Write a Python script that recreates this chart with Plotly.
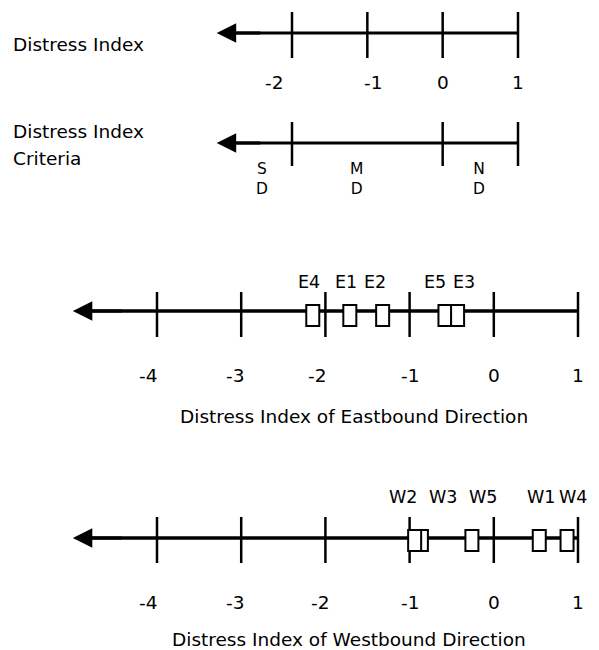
import plotly.graph_objects as go

# values
TOP_TICKS = [-2, -1, 0, 1]
CRITERIA_TICKS = [-2, 0, 1]
CRITERIA_CODES = ["SD", "MD", "ND"]
CRITERIA_POS = [-2.4, -1.14, 0.48]
SECTION_TICKS = [-4, -3, -2, -1, 0, 1]
EAST_SECTIONS = ["E4", "E1", "E2", "E5", "E3"]
EAST_INDEX = [-2.15, -1.71, -1.32, -0.58, -0.43]
WEST_SECTIONS = ["W3", "W2", "W5", "W1", "W4"]
WEST_INDEX = [-0.86, -0.94, -0.26, 0.54, 0.87]

PAGE_W, PAGE_H = 599, 650
OFF = 8  # browser body margin
W, H = PAGE_W - OFF, PAGE_H - OFF
FAMILY = "DejaVu Sans"
FONT = dict(family=FAMILY, size=18.5, color="black")
SMALL = dict(family=FAMILY, size=17.5, color="black")
STACK = dict(family=FAMILY, size=15.5, color="black")
# per-label horizontal nudges (pixels) so stacked labels don't collide
LABEL_SHIFT = {"E4": -4, "E1": -4, "E2": -8, "E5": -10, "E3": 6,
               "W2": -12, "W3": 22, "W5": 11, "W1": 2, "W4": 6}
TICK_SHIFT_TOP = {-2: -18, -1: 6}


def px(xp):
    return (xp - OFF) / W


def number_line(fig, xa, ticks, tip, y, t0, t1, lw=3):
    fig.add_trace(go.Scatter(x=[tip + 0.2, max(ticks)], y=[y, y], xaxis=xa, yaxis="y",
                             mode="lines", line=dict(color="black", width=lw),
                             showlegend=False, hoverinfo="skip"))
    xs, ys = [], []
    for t in ticks:
        xs += [t, t, None]
        ys += [t0, t1, None]
    fig.add_trace(go.Scatter(x=xs, y=ys, xaxis=xa, yaxis="y", mode="lines",
                             line=dict(color="black", width=2.5),
                             showlegend=False, hoverinfo="skip"))
    fig.add_annotation(x=tip, y=y, ax=tip + 0.6, ay=y, xref=xa, yref="y",
                       axref=xa, ayref="y", text="", showarrow=True,
                       arrowhead=2, arrowsize=1.3, arrowwidth=3, arrowcolor="black")


def tick_labels(fig, xa, ticks, y, shifts=None):
    shifts = shifts or {}
    for t in ticks:
        fig.add_annotation(x=t, y=y, xref=xa, yref="y", text=str(t), showarrow=False,
                           xshift=shifts.get(t, 0), font=FONT)


def sections(fig, xa, names, vals, y0, y1, ylab):
    for n, v in zip(names, vals):
        fig.add_shape(type="rect", xref=xa, yref="y", xsizemode="pixel", xanchor=v,
                      x0=-6.5, x1=6.5, y0=y0, y1=y1, fillcolor="white",
                      line=dict(color="black", width=2))
        fig.add_annotation(x=v, y=ylab, xref=xa, yref="y", text=n, showarrow=False,
                           xshift=LABEL_SHIFT.get(n, 0), font=SMALL)


fig = go.Figure()

# top: distress index scale and criteria
number_line(fig, "x", TOP_TICKS, -3, 33, 12, 58)
tick_labels(fig, "x", TOP_TICKS, 82, TICK_SHIFT_TOP)
number_line(fig, "x", CRITERIA_TICKS, -3, 143, 122, 166)
for code, p in zip(CRITERIA_CODES, CRITERIA_POS):
    fig.add_annotation(x=p, y=179, xref="x", yref="y", text="<br>".join(code),
                       showarrow=False, font=STACK)

for txt, yy in [("Distress Index", 44), ("Distress Index", 131), ("Criteria", 158)]:
    fig.add_annotation(x=px(11), y=yy, xref="paper", yref="y", xanchor="left",
                       text=txt, showarrow=False, font=FONT)

# eastbound
number_line(fig, "x2", SECTION_TICKS, -5, 311, 292, 337, lw=3.5)
sections(fig, "x2", EAST_SECTIONS, EAST_INDEX, 305, 326, 282)
tick_labels(fig, "x2", SECTION_TICKS, 375, {-4: -9, -3: -6, -2: -8})
fig.add_annotation(x=px(354), y=416, xref="paper", yref="y",
                   text="Distress Index of Eastbound Direction", showarrow=False, font=FONT)

# westbound
number_line(fig, "x2", SECTION_TICKS, -5, 538, 517, 563, lw=3.5)
sections(fig, "x2", WEST_SECTIONS, WEST_INDEX, 530, 551, 497)
tick_labels(fig, "x2", SECTION_TICKS, 602, {-4: -9, -3: -6, -2: -5})
fig.add_annotation(x=px(349), y=639, xref="paper", yref="y",
                   text="Distress Index of Westbound Direction", showarrow=False, font=FONT)

# -2 -> 292px, 1 -> 518px on top; -4 -> 157px, 1 -> 578px below (page pixels)
s1 = (518 - 292) / 3
s2 = (578 - 157) / 5
hidden = dict(visible=False, showgrid=False, zeroline=False)
fig.update_layout(
    width=W, height=H, margin=dict(l=0, r=0, t=0, b=0),
    paper_bgcolor="white", plot_bgcolor="white", font=FONT,
    xaxis=dict(range=[-2 - (292 - OFF) / s1, 1 + (PAGE_W - 518) / s1], domain=[0, 1], **hidden),
    xaxis2=dict(range=[-4 - (157 - OFF) / s2, 1 + (PAGE_W - 578) / s2], domain=[0, 1],
                overlaying="x", **hidden),
    yaxis=dict(range=[PAGE_H, OFF], domain=[0, 1], **hidden),
)

fig.write_html("out.html")
